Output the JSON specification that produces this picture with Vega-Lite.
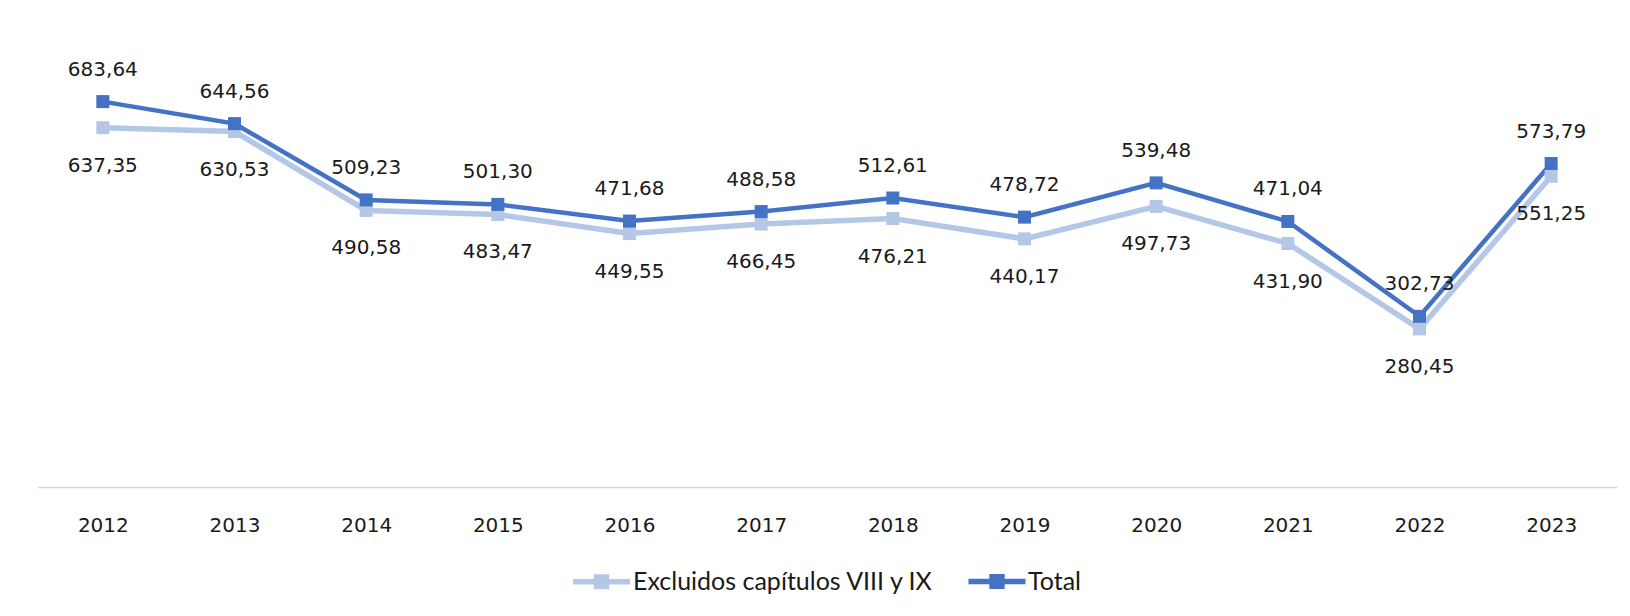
{
  "$schema": "https://vega.github.io/schema/vega-lite/v6.json",
  "width": 1580,
  "height": 451,
  "autosize": "none",
  "padding": {"left": 37, "top": 36, "right": 13, "bottom": 129},
  "background": "white",
  "config": {
    "view": {"stroke": null},
    "locale": {"number": {"decimal": ",", "thousands": ".", "grouping": [3], "currency": ["", " €"]}},
    "font": "DejaVu Sans"
  },
  "data": {
    "values": [
      {"year": "2012", "serie": "Excluidos capítulos VIII y IX", "value": 637.35},
      {"year": "2013", "serie": "Excluidos capítulos VIII y IX", "value": 630.53},
      {"year": "2014", "serie": "Excluidos capítulos VIII y IX", "value": 490.58},
      {"year": "2015", "serie": "Excluidos capítulos VIII y IX", "value": 483.47},
      {"year": "2016", "serie": "Excluidos capítulos VIII y IX", "value": 449.55},
      {"year": "2017", "serie": "Excluidos capítulos VIII y IX", "value": 466.45},
      {"year": "2018", "serie": "Excluidos capítulos VIII y IX", "value": 476.21},
      {"year": "2019", "serie": "Excluidos capítulos VIII y IX", "value": 440.17},
      {"year": "2020", "serie": "Excluidos capítulos VIII y IX", "value": 497.73},
      {"year": "2021", "serie": "Excluidos capítulos VIII y IX", "value": 431.90},
      {"year": "2022", "serie": "Excluidos capítulos VIII y IX", "value": 280.45},
      {"year": "2023", "serie": "Excluidos capítulos VIII y IX", "value": 551.25},
      {"year": "2012", "serie": "Total", "value": 683.64},
      {"year": "2013", "serie": "Total", "value": 644.56},
      {"year": "2014", "serie": "Total", "value": 509.23},
      {"year": "2015", "serie": "Total", "value": 501.30},
      {"year": "2016", "serie": "Total", "value": 471.68},
      {"year": "2017", "serie": "Total", "value": 488.58},
      {"year": "2018", "serie": "Total", "value": 512.61},
      {"year": "2019", "serie": "Total", "value": 478.72},
      {"year": "2020", "serie": "Total", "value": 539.48},
      {"year": "2021", "serie": "Total", "value": 471.04},
      {"year": "2022", "serie": "Total", "value": 302.73},
      {"year": "2023", "serie": "Total", "value": 573.79}
    ]
  },
  "encoding": {
    "x": {
      "field": "year", "type": "ordinal",
      "scale": {"type": "point", "padding": 0.5},
      "axis": {
        "title": null, "labelAngle": 0, "ticks": false,
        "domainColor": "#D9D9D9", "domainWidth": 1.5,
        "labelFont": "DejaVu Sans", "labelFontSize": 20, "labelColor": "#1a1a1a",
        "labelPadding": 28
      }
    },
    "y": {
      "field": "value", "type": "quantitative",
      "scale": {"domain": [0, 800]},
      "axis": null
    },
    "color": {
      "field": "serie", "type": "nominal",
      "scale": {"domain": ["Excluidos capítulos VIII y IX", "Total"], "range": ["#B4C7E7", "#4472C4"]},
      "legend": {
        "title": null, "orient": "none", "direction": "horizontal",
        "legendX": 533, "legendY": 514,
        "symbolType": "M-1,-0.1H-0.27V-0.26H0.27V-0.1H1V0.1H0.27V0.26H-0.27V0.1H-1Z",
        "symbolSize": 3249, "symbolStrokeWidth": 0, "symbolOpacity": 1,
        "labelFont": "Lato", "labelFontSize": 25, "labelColor": "#1a1a1a",
        "labelOffset": 0, "columnPadding": 32, "offset": 0, "labelLimit": 500, "padding": 0,
        "encode": {"symbols": {"update": {"strokeWidth": {"value": 0}, "strokeOpacity": {"value": 0}}}}
      }
    }
  },
  "layer": [
    {
      "mark": {"type": "line"},
      "encoding": {
        "strokeWidth": {"field": "serie", "type": "nominal", "scale": {"domain": ["Excluidos capítulos VIII y IX", "Total"], "range": [5.5, 4.5]}, "legend": null}
      }
    },
    {
      "mark": {"type": "point", "shape": "square", "filled": true, "opacity": 1, "size": 169}
    },
    {
      "transform": [{"filter": "datum.serie === 'Total'"}],
      "mark": {"type": "text", "dy": -32, "baseline": "middle", "fontSize": 20, "font": "DejaVu Sans"},
      "encoding": {"text": {"field": "value", "type": "quantitative", "format": ".2f"}, "color": {"value": "#1a1a1a"}}
    },
    {
      "transform": [{"filter": "datum.serie !== 'Total'"}],
      "mark": {"type": "text", "dy": 38, "baseline": "middle", "fontSize": 20, "font": "DejaVu Sans"},
      "encoding": {"text": {"field": "value", "type": "quantitative", "format": ".2f"}, "color": {"value": "#1a1a1a"}}
    }
  ]
}
